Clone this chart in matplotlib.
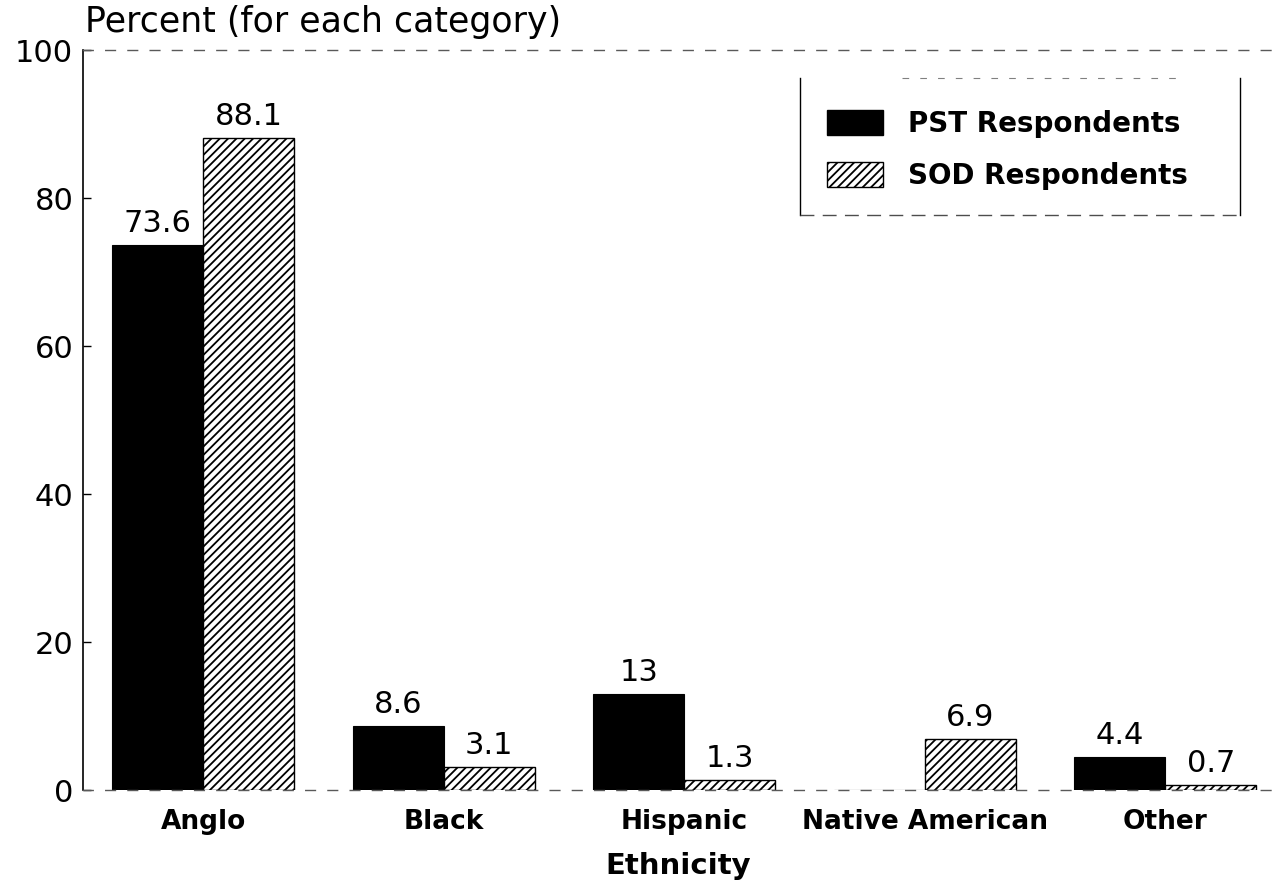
import numpy as np
import matplotlib.pyplot as plt
from matplotlib.lines import Line2D
from matplotlib.patches import Patch

plt.rcParams['font.family'] = ['DejaVu Sans']
plt.rcParams['hatch.linewidth'] = 1.3

categories = ["Anglo", "Black", "Hispanic", "Native American", "Other"]
pst = [73.6, 8.6, 13, 0, 4.4]
sod = [88.1, 3.1, 1.3, 6.9, 0.7]
series_names = ["PST Respondents", "SOD Respondents"]

W, H = 1274, 889
fig = plt.figure(figsize=(W / 100, H / 100), dpi=100)
ax = fig.add_axes([83 / W, 1 - 790 / H, 1 - 83 / W, (790 - 50) / H])

x = np.arange(len(categories))
w = 0.378
b1 = ax.bar(x - w / 2, pst, w, color='black', edgecolor='black', linewidth=0.8)
b2 = ax.bar(x + w / 2, sod, w, color='white', edgecolor='black', linewidth=1.0,
            hatch='////')

for bars, vals in ((b1, pst), (b2, sod)):
    for rect, v in zip(bars, vals):
        if v == 0:
            continue
        ax.annotate(f"{v:g}", (rect.get_x() + rect.get_width() / 2, v),
                    xytext=(0, 5), textcoords='offset points',
                    ha='center', va='bottom', fontsize=22)

ax.set_xlim(-0.5, -0.5 + (W - 83) / 240.5)
ax.set_ylim(0, 100)
ax.set_yticks([0, 20, 40, 60, 80, 100])
ax.tick_params(axis='y', direction='in', length=6, width=1, labelsize=22, pad=7)
ax.set_xticks(x)
ax.set_xticklabels(categories, fontsize=19, fontweight='bold')
ax.tick_params(axis='x', length=0, pad=14)
ax.set_xlabel("Ethnicity", fontsize=21, fontweight='bold', labelpad=12)

ax.spines['right'].set_visible(False)
ax.spines['left'].set_linewidth(1.2)
for side in ('top', 'bottom'):
    ax.spines[side].set_linestyle((0, (7, 9)))
    ax.spines[side].set_linewidth(1.0)
    ax.spines[side].set_color('0.35')

fig.text(85 / W, 1 - 22 / H, "Percent (for each category)", fontsize=25,
         ha='left', va='center')

# legend box: solid sides, broken top and bottom
lx0, lx1, ly0, ly1 = 800 / W, 1240 / W, 1 - 215 / H, 1 - 78 / H
fig.add_artist(Line2D([lx0, lx0], [ly0, ly1], color='black', lw=1.0))
fig.add_artist(Line2D([lx1, lx1], [ly0, ly1], color='black', lw=1.0))
fig.add_artist(Line2D([lx0, lx1], [ly0, ly0], color='0.3', lw=1.0, ls=(0, (10, 6))))
fig.add_artist(Line2D([lx0 + 0.08, lx1 - 0.05], [ly1, ly1], color='0.5', lw=0.8,
                      ls=(0, (6, 10))))

handles = [Patch(facecolor='black', edgecolor='black'),
           Patch(facecolor='white', edgecolor='black', hatch='////')]
leg = fig.legend(handles, series_names, loc='upper left',
                 bbox_to_anchor=(802 / W, 1 - 85 / H), frameon=False,
                 prop={'size': 20, 'weight': 'bold'}, handlelength=2.0,
                 handleheight=1.0, handletextpad=0.9, labelspacing=0.85)

fig.savefig("out.png", dpi=100)
